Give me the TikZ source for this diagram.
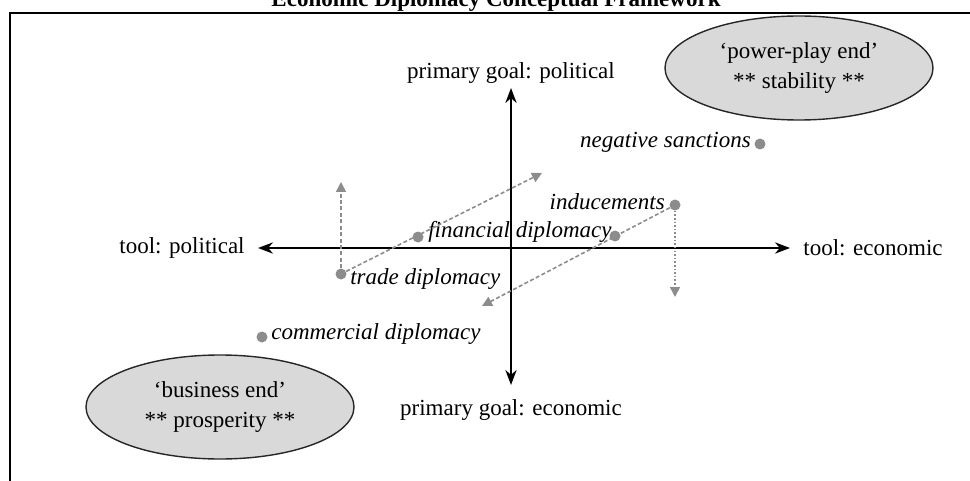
\documentclass[tikz,border=0pt]{standalone}
\usepackage{fontspec}
\setmainfont{Liberation Serif}
\usetikzlibrary{arrows.meta,positioning,shapes.geometric}

\begin{document}
\begin{tikzpicture}[>=Stealth,x=0.5pt,y=-0.5pt,
    axistxt/.style={font=\fontsize{11.5}{13}\selectfont,inner sep=1pt},
    tooltxt/.style={font=\fontsize{11.5}{13}\selectfont\itshape,inner sep=1pt},
    spot/.style={circle,fill=black!45,inner sep=0pt,minimum size=5.5pt},
    endzone/.style={ellipse,draw=black!85,line width=0.7pt,fill=black!15,minimum width=134pt,minimum height=52pt,align=center,font=\fontsize{11.5}{15}\selectfont},
    drift/.style={draw=black!45,line width=0.8pt,dash pattern=on 2pt off 1.2pt,-{Triangle[length=5pt,width=5pt]}}]

    \useasboundingbox (0,0) rectangle (970,481);

    % Title (top half cut by the page) and frame
    \node [anchor=base,font=\fontsize{11.5}{14}\selectfont\bfseries] (title) at (496,7) {Economic Diplomacy Conceptual Framework};
    \draw [line width=1.4pt] (10,490) -- (10,13) -- (980,13);

    % Axes
    \coordinate (axT) at (511,88);
    \coordinate (axB) at (511,385);
    \coordinate (axL) at (258,248);
    \coordinate (axR) at (790,248);
    \draw [<->,line width=1pt] (axB) -- (axT);
    \draw [<->,line width=1pt] (axL) -- (axR);

    \node [axistxt,above=1pt of axT] (goalP) {primary goal: political};
    \node [axistxt,below=6pt of axB] (goalE) {primary goal: economic};
    \node [axistxt,left=5.5pt of axL] (toolP) {tool: political};
    \node [axistxt,right=5.5pt of axR] (toolE) {tool: economic};

    % The two ends
    \node [endzone] (power) at (799,68) {`power-play end'\\** stability **};
    \node [endzone] (business) at (220,407) {`business end'\\** prosperity **};

    % Instruments
    \node [spot] (neg) at (760,144) {};
    \node [spot] (ind) at (675,205) {};
    \node [spot] (finL) at (418,237) {};
    \node [spot] (finR) at (615,236) {};
    \node [spot] (trade) at (341,274) {};
    \node [spot] (comm) at (262,337) {};

    \node [tooltxt,left=0.5pt of neg,yshift=1pt] (negtxt) {negative sanctions};
    \node [tooltxt,left=1pt of ind,yshift=1.5pt] (indtxt) {inducements};
    \node [tooltxt,right=1pt of finL,yshift=2.5pt] (fintxt) {financial diplomacy};
    \node [tooltxt,right=0.5pt of trade,yshift=-2.5pt] (tradetxt) {trade diplomacy};
    \node [tooltxt,right=0.5pt of comm,yshift=1.5pt] (commtxt) {commercial diplomacy};

    % Shifts between instruments
    \coordinate (tradeUp) at (341,182);
    \coordinate (finTip) at (542,173);
    \coordinate (indDown) at (675,297);
    \coordinate (indTip) at (482,306);
    \draw [drift] (trade) -- (tradeUp);
    \draw [drift] (trade) -- (finTip);
    \draw [drift] (ind) -- (indTip);
    \draw [drift,densely dotted] (ind) -- (indDown);

\end{tikzpicture}
\end{document}
